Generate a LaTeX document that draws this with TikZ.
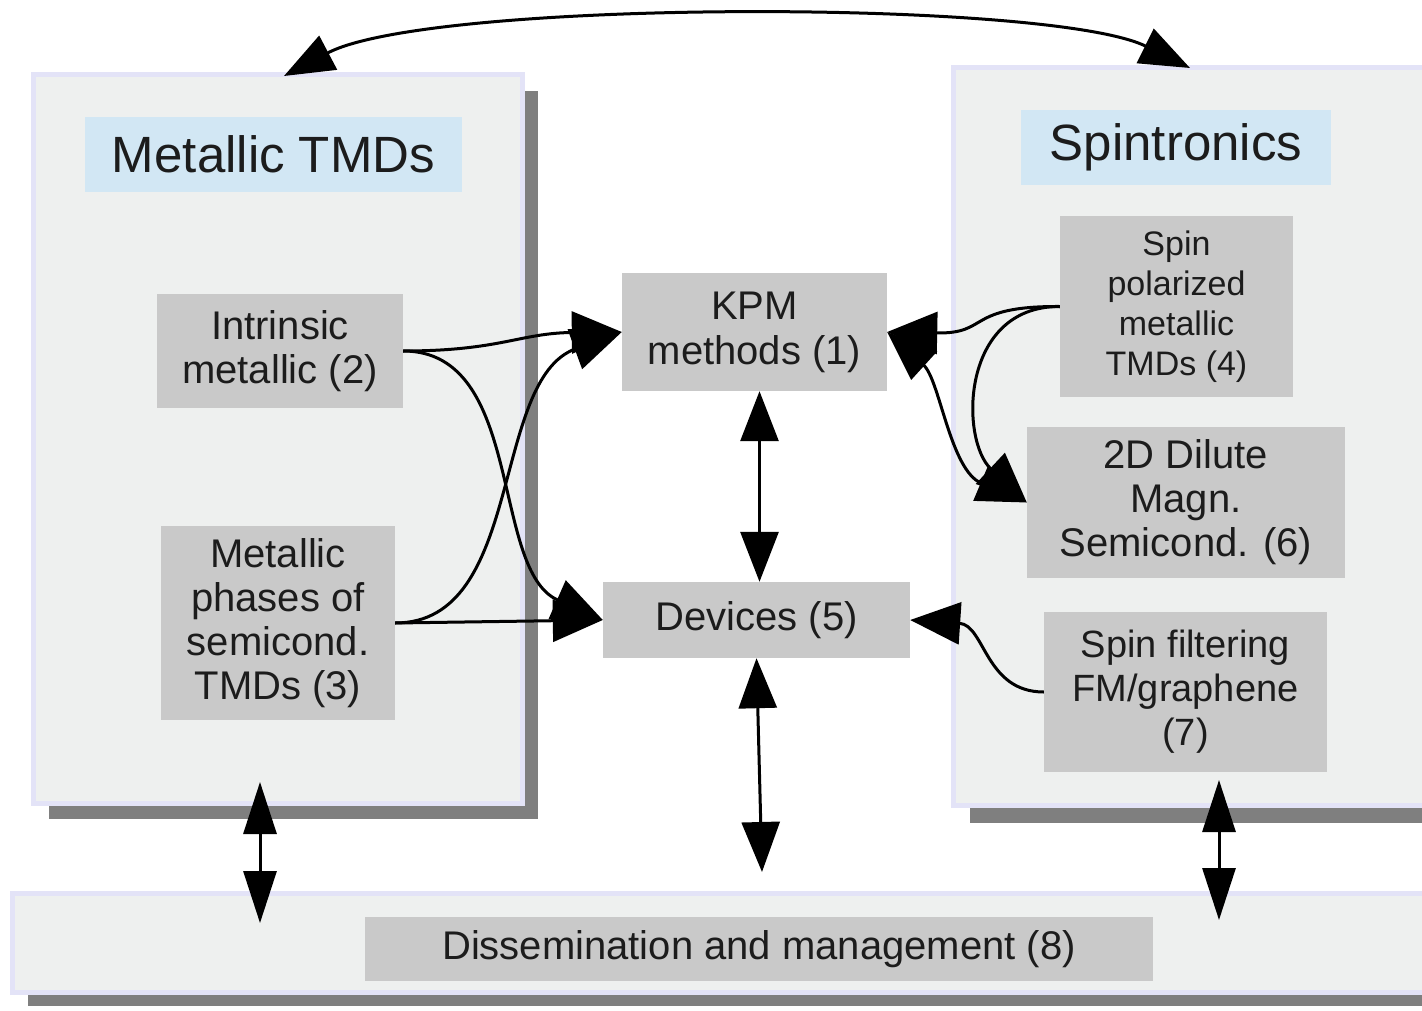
\documentclass[tikz,border=0pt]{standalone}
\usepackage{fontspec}
\setmainfont{Liberation Sans}
\usetikzlibrary{arrows.meta}
\definecolor{panelfill}{HTML}{EEF0EF}
\definecolor{panelline}{HTML}{E3E3F7}
\definecolor{shadowc}{HTML}{7F7F7F}
\definecolor{boxc}{HTML}{C9C9C9}
\definecolor{titlec}{HTML}{D2E7F4}
\definecolor{textc}{HTML}{1C1C1C}
\begin{document}
\begin{tikzpicture}[x=1pt,y=-1pt,
  panel/.style={fill=panelfill,draw=panelline,line width=5pt,inner sep=0pt},
  shadowbox/.style={fill=shadowc,inner sep=0pt},
  box/.style={fill=boxc,inner sep=0pt,align=center,text=textc,font=\fontsize{40}{44}\selectfont},
  titlebox/.style={fill=titlec,inner sep=0pt,text=textc,font=\fontsize{51}{56}\selectfont},
  conn/.style={line width=3pt,-{Triangle[length=50pt,width=42pt]}},
  dconn/.style={line width=3pt,{Triangle[length=50pt,width=38pt]}-{Triangle[length=50pt,width=38pt]}},
  sconn/.style={line width=3pt,{Triangle[length=52pt,width=33pt]}-{Triangle[length=52pt,width=33pt]}},
]
\useasboundingbox[fill=white] (0,0) rectangle (1422,1011);

% panels with shadows
\node[shadowbox,minimum width=489pt,minimum height=728pt] (lps) at (293.5,455) {};
\node[panel,minimum width=489pt,minimum height=728pt] (lp) at (277.5,439) {};
\node[shadowbox,minimum width=490pt,minimum height=737pt] (rps) at (1215,454) {};
\node[panel,minimum width=490pt,minimum height=737pt] (rp) at (1198,436.5) {};
\node[shadowbox,minimum width=1428pt,minimum height=99pt] (bps) at (742,956) {};
\node[panel,minimum width=1428pt,minimum height=99pt] (bp) at (726,942.5) {};

% titles
\node[titlebox,minimum width=377pt,minimum height=75pt] (tl) at (273.5,154.5) {Metallic TMDs};
\node[titlebox,minimum width=310pt,minimum height=75pt] (tr) at (1176,147.5) {Spintronics};

% boxes
\node[box,minimum width=246pt,minimum height=114pt] (b2) at (280,351) {Intrinsic\\metallic (2)};
\node[box,minimum width=234pt,minimum height=194pt] (b3) at (278,623) {Metallic\\phases of\\semicond.\\TMDs (3)};
\node[box,minimum width=265pt,minimum height=118pt,font=\fontsize{40}{45}\selectfont] (kpm) at (754.5,332) {KPM\\methods (1)};
\node[box,minimum width=307pt,minimum height=76pt] (dev) at (756.5,620) {Devices (5)};
\node[box,minimum width=233pt,minimum height=181pt,font=\fontsize{34}{40}\selectfont] (b4) at (1176.5,306.5) {Spin\\polarized\\metallic\\TMDs (4)};
\node[box,minimum width=318pt,minimum height=151pt] (b6) at (1186,502.5) {2D Dilute\\Magn.\\Semicond. (6)};
\node[box,minimum width=283pt,minimum height=160pt,font=\fontsize{38}{44}\selectfont] (b7) at (1185.5,692) {Spin filtering\\FM/graphene\\(7)};
\node[box,minimum width=788pt,minimum height=64pt] (dis) at (759,949) {Dissemination and management (8)};

% free ends
\coordinate (arcl) at (284,76);
\coordinate (arcr) at (1190,68);
\coordinate (la) at (260,782);
\coordinate (lb) at (260,923);
\coordinate (ra) at (1219,780);
\coordinate (rb) at (1219,920);
\coordinate (dd) at (762,872);

% connectors
\draw[dconn] (arcl) .. controls (430,-1) and (1050,-1) .. (arcr);
\draw[conn] (b2.east) .. controls (500,351) and (520,333) .. (kpm.west);
\draw[conn] (b2.east) .. controls (525,351) and (490,570) .. (dev.west);
\draw[conn] (b3.east) -- (dev.west);
\draw[conn] (b3.east) .. controls (525,623) and (490,380) .. (kpm.west);
\draw[dconn] ([xshift=5pt]kpm.south) -- ([xshift=3pt]dev.north);
\draw[dconn] ([xshift=0pt]dev.south) -- (dd);
\draw[sconn] (la) -- (lb);
\draw[sconn] (ra) -- (rb);
\draw[conn] (b4.west) .. controls (965,306) and (990,334) .. (kpm.east);
\draw[dconn] (kpm.east) .. controls (940,380) and (950,470) .. (b6.west);
\draw[conn] (b4.west) .. controls (960,306) and (960,440) .. (b6.west);
\draw[conn] (b7.west) .. controls (985,692) and (985,625) .. (dev.east);
\end{tikzpicture}
\end{document}
